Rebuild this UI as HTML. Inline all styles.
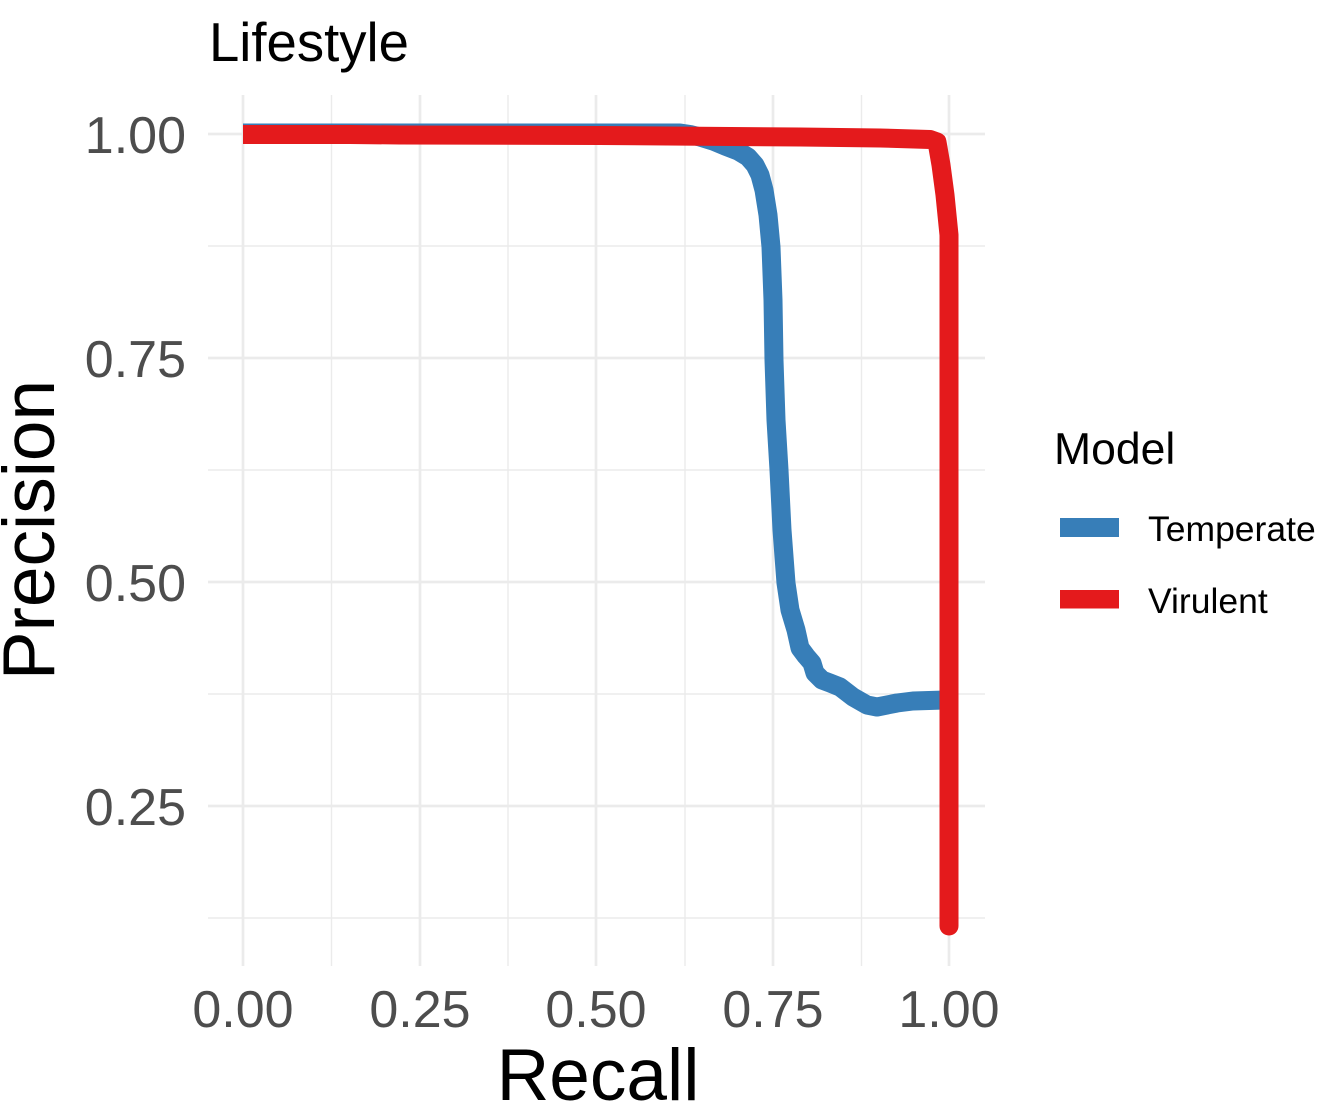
<!DOCTYPE html>
<html>
<head>
<meta charset="utf-8">
<style>
html,body{margin:0;padding:0;background:#fff;}
svg{display:block;}
text{font-family:"Liberation Sans",Arial,sans-serif;}
</style>
</head>
<body>
<svg width="1338" height="1117" viewBox="0 0 1338 1117" xmlns="http://www.w3.org/2000/svg">
<rect width="1338" height="1117" fill="#fff"/>
<!-- minor grid -->
<g stroke="#EBEBEB" stroke-width="1.4" fill="none">
<line x1="208" y1="246" x2="985" y2="246"/>
<line x1="208" y1="470" x2="985" y2="470"/>
<line x1="208" y1="694" x2="985" y2="694"/>
<line x1="208" y1="918" x2="985" y2="918"/>
<line x1="331.5" y1="95" x2="331.5" y2="966"/>
<line x1="508" y1="95" x2="508" y2="966"/>
<line x1="685" y1="95" x2="685" y2="966"/>
<line x1="861.5" y1="95" x2="861.5" y2="966"/>
</g>
<!-- major grid -->
<g stroke="#EBEBEB" stroke-width="2.7" fill="none">
<line x1="208" y1="134" x2="985" y2="134"/>
<line x1="208" y1="358" x2="985" y2="358"/>
<line x1="208" y1="582" x2="985" y2="582"/>
<line x1="208" y1="806" x2="985" y2="806"/>
<line x1="243" y1="95" x2="243" y2="966"/>
<line x1="420" y1="95" x2="420" y2="966"/>
<line x1="596" y1="95" x2="596" y2="966"/>
<line x1="773" y1="95" x2="773" y2="966"/>
<line x1="949" y1="95" x2="949" y2="966"/>
</g>
<!-- Temperate (blue) -->
<polyline fill="none" stroke="#377EB8" stroke-width="19" stroke-linejoin="round" stroke-linecap="butt"
points="243,133 680,133 690,134.5 700,137 713,141 725,146 738,151 748,157 755,165 760,175 764,190 768,215 771,247 773,300 774,360 776,420 779,470 782,530 786,583 790,610 796,630 800,648 806,656 812,663 815,673 822,680 830,683 840,687 853,697 867,705 877,707 897,703 913,701 945,700"/>
<!-- Virulent (red) -->
<polyline fill="none" stroke="#E41A1C" stroke-width="19" stroke-linejoin="round" stroke-linecap="butt"
points="243,134.5 350,134.5 400,135 600,135.5 800,137 880,138 930,139.5 937,142 941,165 945,195 949,235 949,926"/>
<circle cx="949" cy="926" r="9.5" fill="#E41A1C"/>
<!-- title -->
<text x="209" y="61" font-size="54.5" fill="#000">Lifestyle</text>
<!-- y tick labels -->
<g font-size="52" fill="#4D4D4D" text-anchor="end">
<text x="186" y="153">1.00</text>
<text x="186" y="377">0.75</text>
<text x="186" y="601">0.50</text>
<text x="186" y="825">0.25</text>
</g>
<!-- x tick labels -->
<g font-size="52" fill="#4D4D4D" text-anchor="middle">
<text x="243" y="1027">0.00</text>
<text x="420" y="1027">0.25</text>
<text x="596" y="1027">0.50</text>
<text x="773" y="1027">0.75</text>
<text x="949" y="1027">1.00</text>
</g>
<!-- axis titles -->
<text x="598" y="1100" font-size="73" fill="#000" text-anchor="middle">Recall</text>
<text transform="translate(54,530) rotate(-90)" font-size="73" fill="#000" text-anchor="middle">Precision</text>
<!-- legend -->
<text x="1054" y="464" font-size="44.5" fill="#000">Model</text>
<rect x="1060" y="518" width="59" height="19" fill="#377EB8"/>
<rect x="1060" y="590" width="59" height="18.5" fill="#E41A1C"/>
<text x="1148" y="541" font-size="35.5" fill="#000">Temperate</text>
<text x="1148" y="613" font-size="35.5" fill="#000">Virulent</text>
</svg>
</body>
</html>
